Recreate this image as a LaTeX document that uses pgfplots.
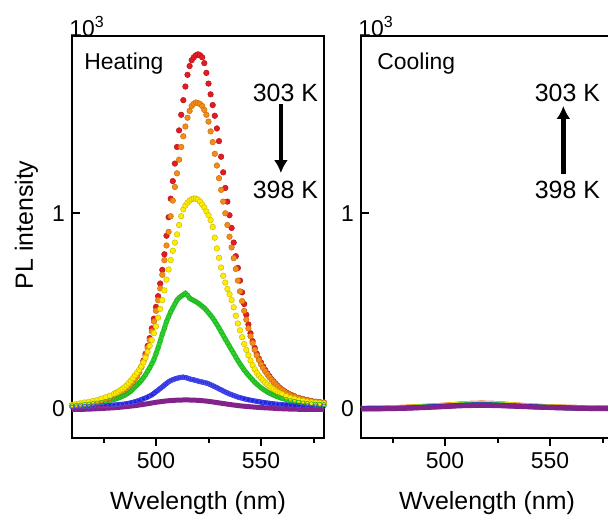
\documentclass[border=0pt]{standalone}
\usepackage{fontspec}
\setmainfont{Liberation Sans}
\usepackage{pgfplots}
\usepackage{pgfplotstable}
\pgfplotsset{compat=1.18}
\usetikzlibrary{arrows.meta}

\definecolor{cR}{RGB}{228,28,34}
\definecolor{cO}{RGB}{246,140,22}
\definecolor{cY}{RGB}{255,236,0}
\definecolor{cG}{RGB}{45,210,45}
\definecolor{cB}{RGB}{30,35,225}
\definecolor{cP}{RGB}{130,35,140}

% heating, 303 K (red) -> 398 K (purple); intensity in 10^3
\pgfplotstableread{
x y
460 0.015
462 0.017
464 0.019
466 0.022
468 0.026
470 0.030
472 0.035
474 0.041
476 0.048
478 0.055
480 0.065
482 0.075
484 0.088
485 0.094
486 0.100
487 0.112
488 0.125
489 0.140
490 0.155
491 0.170
492 0.190
493 0.215
494 0.245
495 0.280
496 0.320
497 0.360
498 0.410
499 0.460
500 0.520
501 0.575
502 0.640
503 0.710
504 0.790
505 0.885
506 0.980
507 1.075
508 1.165
509 1.255
510 1.340
511 1.425
512 1.505
513 1.580
514 1.650
515 1.710
516 1.755
517 1.785
518 1.800
519 1.810
520 1.815
521 1.810
522 1.800
523 1.770
524 1.720
525 1.665
526 1.610
527 1.555
528 1.500
529 1.435
530 1.370
531 1.290
532 1.210
533 1.130
534 1.060
535 0.990
536 0.925
537 0.850
538 0.780
539 0.720
540 0.655
541 0.595
542 0.535
543 0.480
544 0.430
545 0.385
546 0.345
547 0.310
548 0.280
549 0.255
550 0.235
551 0.215
552 0.197
553 0.180
554 0.165
555 0.150
556 0.138
557 0.126
558 0.115
559 0.105
560 0.096
561 0.089
562 0.082
563 0.076
564 0.070
565 0.066
566 0.062
568 0.054
570 0.048
572 0.043
574 0.038
576 0.034
578 0.032
580 0.030
}\heatR

\pgfplotstableread{
x y
460 0.015
462 0.017
464 0.019
466 0.021
468 0.025
470 0.029
472 0.034
474 0.040
476 0.046
478 0.053
480 0.062
482 0.072
484 0.084
485 0.090
486 0.098
487 0.108
488 0.120
489 0.134
490 0.150
491 0.165
492 0.185
493 0.210
494 0.240
495 0.270
496 0.310
497 0.350
498 0.395
499 0.445
500 0.500
501 0.555
502 0.615
503 0.685
504 0.760
505 0.835
506 0.905
507 0.985
508 1.065
509 1.135
510 1.205
511 1.275
512 1.340
513 1.395
514 1.445
515 1.490
516 1.525
517 1.550
518 1.562
519 1.568
520 1.565
521 1.560
522 1.550
523 1.530
524 1.505
525 1.470
526 1.420
527 1.365
528 1.305
529 1.245
530 1.180
531 1.120
532 1.060
533 1.000
534 0.940
535 0.880
536 0.825
537 0.770
538 0.715
539 0.655
540 0.600
541 0.550
542 0.500
543 0.455
544 0.410
545 0.370
546 0.335
547 0.300
548 0.272
549 0.248
550 0.226
551 0.207
552 0.190
553 0.175
554 0.160
555 0.147
556 0.135
557 0.123
558 0.112
559 0.102
560 0.094
561 0.087
562 0.080
563 0.074
564 0.069
565 0.064
566 0.060
568 0.053
570 0.047
572 0.042
574 0.037
576 0.033
578 0.031
580 0.029
}\heatO

\pgfplotstableread{
x y
460 0.018
462 0.022
464 0.026
466 0.030
468 0.034
470 0.038
472 0.043
474 0.050
476 0.057
478 0.065
480 0.075
481 0.080
482 0.086
483 0.093
484 0.100
485 0.108
486 0.118
487 0.130
488 0.142
489 0.155
490 0.170
491 0.183
492 0.198
493 0.215
494 0.235
495 0.260
496 0.290
497 0.320
498 0.350
499 0.385
500 0.420
501 0.465
502 0.510
503 0.555
504 0.605
505 0.660
506 0.712
507 0.760
508 0.808
509 0.850
510 0.892
511 0.940
512 0.985
513 1.020
514 1.040
515 1.055
516 1.065
517 1.072
518 1.076
519 1.075
520 1.070
521 1.060
522 1.045
523 1.030
524 1.010
525 0.990
526 0.965
527 0.930
528 0.875
529 0.820
530 0.772
531 0.722
532 0.680
533 0.645
534 0.612
535 0.585
536 0.555
537 0.518
538 0.475
539 0.435
540 0.400
541 0.365
542 0.330
543 0.300
544 0.272
545 0.245
546 0.222
547 0.200
548 0.182
549 0.168
550 0.155
551 0.143
552 0.132
553 0.122
554 0.113
555 0.105
556 0.098
557 0.090
558 0.083
559 0.077
560 0.072
562 0.062
564 0.054
566 0.048
568 0.042
570 0.038
572 0.034
574 0.031
576 0.029
578 0.027
580 0.025
}\heatY

\pgfplotstableread{
x y
460 0.013
462 0.015
464 0.017
466 0.019
468 0.021
470 0.024
472 0.027
474 0.030
476 0.035
478 0.040
480 0.046
481 0.049
482 0.053
483 0.057
484 0.062
485 0.067
486 0.073
487 0.080
488 0.088
489 0.098
490 0.110
491 0.120
492 0.130
493 0.143
494 0.157
495 0.172
496 0.190
497 0.208
498 0.228
499 0.250
500 0.280
501 0.310
502 0.345
503 0.380
504 0.410
505 0.445
506 0.470
507 0.495
508 0.515
509 0.535
510 0.555
511 0.567
512 0.575
513 0.583
514 0.590
515 0.580
516 0.565
517 0.558
518 0.553
519 0.547
520 0.540
521 0.532
522 0.523
523 0.515
524 0.503
525 0.490
526 0.477
527 0.463
528 0.447
529 0.430
530 0.412
531 0.393
532 0.374
533 0.355
534 0.337
535 0.318
536 0.300
537 0.282
538 0.263
539 0.245
540 0.228
541 0.212
542 0.196
543 0.183
544 0.170
545 0.158
546 0.146
547 0.134
548 0.124
549 0.115
550 0.106
551 0.098
552 0.091
553 0.084
554 0.078
555 0.073
556 0.068
557 0.063
558 0.059
559 0.055
560 0.051
562 0.045
564 0.039
566 0.035
568 0.031
570 0.027
572 0.025
574 0.023
576 0.021
578 0.020
580 0.019
}\heatG

\pgfplotstableread{
x y
460 0.006
462 0.007
464 0.008
466 0.009
468 0.010
470 0.011
472 0.012
474 0.013
476 0.014
478 0.015
480 0.017
482 0.019
484 0.021
486 0.024
488 0.028
490 0.034
492 0.041
494 0.049
496 0.058
498 0.069
500 0.085
501 0.093
502 0.102
503 0.110
504 0.119
505 0.128
506 0.136
507 0.142
508 0.147
509 0.151
510 0.154
511 0.157
512 0.159
513 0.160
514 0.158
515 0.155
516 0.151
517 0.148
518 0.146
519 0.143
520 0.140
521 0.137
522 0.135
523 0.132
524 0.130
525 0.126
526 0.121
527 0.116
528 0.111
529 0.106
530 0.100
531 0.095
532 0.089
533 0.084
534 0.079
535 0.074
536 0.070
537 0.066
538 0.062
539 0.058
540 0.055
542 0.049
544 0.044
546 0.040
548 0.036
550 0.032
552 0.029
554 0.026
556 0.023
558 0.021
560 0.019
564 0.016
568 0.014
572 0.013
576 0.012
580 0.011
}\heatB

\pgfplotstableread{
x y
460 -0.006
465 -0.005
470 -0.003
475 0.000
480 0.003
485 0.008
490 0.014
495 0.022
500 0.031
505 0.038
510 0.042
515 0.043
520 0.041
525 0.036
530 0.028
535 0.020
540 0.013
545 0.008
550 0.004
555 0.001
560 -0.002
565 -0.004
570 -0.005
575 -0.005
580 -0.006
}\heatP

% cooling: all curves stay near zero
\pgfplotstableread{
x r o y g b p
460 0.000 0.000 0.000 -0.001 -0.002 -0.003
470 0.002 0.002 0.001 0.000 -0.001 -0.002
480 0.005 0.005 0.004 0.003 0.001 0.000
490 0.010 0.010 0.009 0.008 0.006 0.004
500 0.016 0.016 0.015 0.013 0.011 0.009
505 0.020 0.020 0.019 0.016 0.014 0.012
510 0.024 0.024 0.022 0.019 0.016 0.014
515 0.026 0.026 0.024 0.021 0.018 0.015
520 0.026 0.026 0.024 0.021 0.018 0.015
525 0.024 0.024 0.022 0.019 0.016 0.014
530 0.020 0.020 0.019 0.016 0.014 0.012
540 0.013 0.013 0.012 0.010 0.009 0.008
550 0.008 0.008 0.007 0.006 0.005 0.004
560 0.005 0.005 0.004 0.003 0.002 0.001
570 0.003 0.003 0.002 0.001 0.000 -0.001
580 0.002 0.002 0.001 0.000 -0.001 -0.002
}\cool

\pgfplotsset{
  panel/.style={
    scale only axis, width=126bp, height=201bp,
    xmin=460, xmax=580, ymin=-0.152, ymax=1.909,
    xtick={500,550}, minor xtick={475,525,575}, ytick={0,1},
    tick pos=left, xtick align=outside, ytick align=inside,
    major tick length=3.8bp, minor tick length=2.5bp,
    axis line style={line width=1bp},
    tick style={line width=1bp, black},
    tick label style={font=\fontsize{11.5}{13}\selectfont},
    /pgf/number format/assume math mode=true,
    label style={font=\fontsize{12.5}{14}\selectfont},
    xlabel={Wvelength (nm)},
    xlabel style={at={(axis description cs:0.5,-0.177)}, anchor=base},
    clip=false,
  },
  dots/.style={only marks, mark=*, mark size=1.4bp, mark options={draw=#1!80!black, line width=0.25bp, fill=#1}},
  band/.style={#1, line width=2.5bp, mark=none},
}

\begin{document}
\begin{tikzpicture}
\path[use as bounding box] (0,0) rectangle (304bp,258bp);
\clip (0,0) rectangle (304bp,258bp);

\begin{axis}[panel, at={(36bp,39bp)}, anchor=south west,
  ylabel={PL intensity},
  ylabel style={at={(axis description cs:-0.155,0.53)}, anchor=base}]
\addplot[dots=cR] table {\heatR};
\addplot[dots=cO] table {\heatO};
\addplot[dots=cY] table {\heatY};
\addplot[band=cG] table {\heatG};
\addplot[only marks, mark=o, mark size=1.1bp, cG!85!black, mark options={line width=0.3bp}] table {\heatG};
\addplot[band=cB] table {\heatB};
\addplot[only marks, mark=o, mark size=1.1bp, cB!80!white, mark options={line width=0.3bp}] table {\heatB};
\addplot[band=cP, smooth] table {\heatP};
\node[anchor=base west, inner sep=0, font=\fontsize{11.5}{13}\selectfont, xshift=-1.5bp] at (rel axis cs:0,1) {10\textsuperscript{3}};
\node[anchor=north west, inner sep=0, font=\fontsize{11.5}{13}\selectfont] at (rel axis cs:0.0476,0.96) {Heating};
\node[inner sep=0, font=\fontsize{12.5}{14}\selectfont] at (rel axis cs:0.847,0.859) {303 K};
\node[inner sep=0, font=\fontsize{12.5}{14}\selectfont] at (rel axis cs:0.847,0.618) {398 K};
\draw[-{Latex[length=6.5bp,width=7bp]}, line width=2.2bp] (rel axis cs:0.829,0.831) -- (rel axis cs:0.829,0.659);
\end{axis}

\begin{axis}[panel, at={(180.5bp,39bp)}, anchor=south west]
\addplot[band=cR, smooth] table[y=r] {\cool};
\addplot[band=cO, smooth] table[y=o] {\cool};
\addplot[band=cY, smooth] table[y=y] {\cool};
\addplot[band=cG, smooth] table[y=g] {\cool};
\addplot[band=cB, smooth] table[y=b] {\cool};
\addplot[band=cP, smooth] table[y=p] {\cool};
\node[anchor=base west, inner sep=0, font=\fontsize{11.5}{13}\selectfont, xshift=-1.5bp] at (rel axis cs:0,1) {10\textsuperscript{3}};
\node[anchor=north west, inner sep=0, font=\fontsize{11.5}{13}\selectfont] at (rel axis cs:0.0635,0.96) {Cooling};
\node[inner sep=0, font=\fontsize{12.5}{14}\selectfont] at (rel axis cs:0.819,0.859) {303 K};
\node[inner sep=0, font=\fontsize{12.5}{14}\selectfont] at (rel axis cs:0.819,0.618) {398 K};
\draw[-{Latex[length=6.5bp,width=7bp]}, line width=2.2bp] (rel axis cs:0.803,0.657) -- (rel axis cs:0.803,0.826);
\end{axis}
\end{tikzpicture}
\end{document}
